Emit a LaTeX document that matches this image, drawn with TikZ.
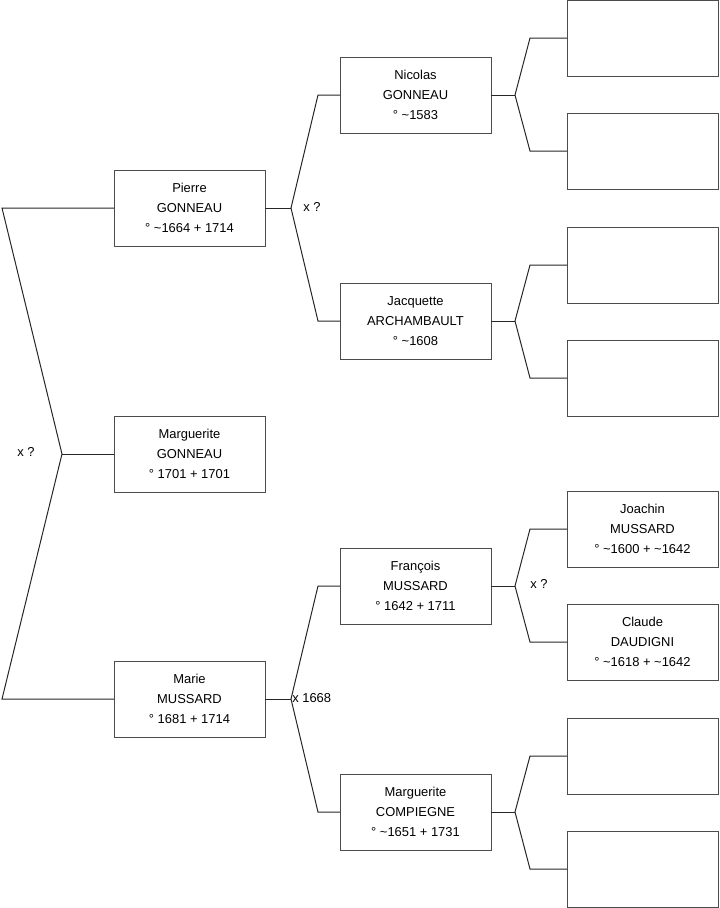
\documentclass[tikz,border=0pt]{standalone}
\usepackage{fontspec}
\setmainfont{Liberation Sans}
\usepackage{tikz}

\begin{document}
\begin{tikzpicture}[
  x=0.75pt, y=-0.75pt,
  person/.style={rectangle, draw=black!70, line width=0.75pt, fill=white,
                 minimum width=113.25pt, minimum height=57pt, inner sep=0pt,
                 outer sep=0pt, align=center,
                 font=\fontsize{9.7}{15}\selectfont},
  link/.style={line width=0.75pt, black!85},
  union/.style={anchor=west, inner sep=0pt, font=\fontsize{9.7}{10}\selectfont}
]
\useasboundingbox (0,0) rectangle (719,908);

% Generation 1
\node[person] at (189.5,208) (pierre)  {Pierre\\GONNEAU\\° \textasciitilde1664 + 1714};
\node[person] at (189.5,454) (margg)   {Marguerite\\GONNEAU\\° 1701 + 1701};
\node[person] at (189.5,699) (marie)   {Marie\\MUSSARD\\° 1681 + 1714};

% Generation 2
\node[person] at (415.5,95)  (nicolas)   {Nicolas\\GONNEAU\\° \textasciitilde1583};
\node[person] at (415.5,321) (jacquette) {Jacquette\\ARCHAMBAULT\\° \textasciitilde1608};
\node[person] at (415.5,586) (francois)  {François\\MUSSARD\\° 1642 + 1711};
\node[person] at (415.5,812) (margc)     {Marguerite\\COMPIEGNE\\° \textasciitilde1651 + 1731};

% Generation 3
\node[person] at (642.5,38)  (nicf)  {};
\node[person] at (642.5,151) (nicm)  {};
\node[person] at (642.5,265) (jacf)  {};
\node[person] at (642.5,378) (jacm)  {};
\node[person] at (642.5,529) (joachin) {Joachin\\MUSSARD\\° \textasciitilde1600 + \textasciitilde1642};
\node[person] at (642.5,642) (claude)  {Claude\\DAUDIGNI\\° \textasciitilde1618 + \textasciitilde1642};
\node[person] at (642.5,756) (marf)  {};
\node[person] at (642.5,869) (marm)  {};

% Left fork
\coordinate (lt) at (2,208);
\coordinate (lf) at (62,454);
\coordinate (lb) at (2,699);
\draw[link] (pierre.west) -- (lt) -- (lf) -- (lb) -- (marie.west);
\draw[link] (lf) -- (margg.west);

% Middle forks
\coordinate (pf) at (291,208);
\coordinate (mf) at (291,699);
\draw[link] (pierre.east) -- (pf);
\draw[link] (nicolas.west) -- (318,95) -- (pf) -- (318,321) -- (jacquette.west);
\draw[link] (marie.east) -- (mf);
\draw[link] (francois.west) -- (318,586) -- (mf) -- (318,812) -- (margc.west);

% Right forks
\foreach \child/\up/\down/\y in {nicolas/nicf/nicm/95, jacquette/jacf/jacm/321,
                                 francois/joachin/claude/586, margc/marf/marm/812} {
  \coordinate (rf) at (515,\y);
  \draw[link] (\child.east) -- (rf);
  \draw[link] (\up.west) -- ([xshift=-27.75pt]\up.west) -- (rf)
              -- ([xshift=-27.75pt]\down.west) -- (\down.west);
}

% Unions
\node[union] at (17,452)  (u1) {x ?};
\node[union] at (303,207) (u2) {x ?};
\node[union] at (292,698) (u3) {x 1668};
\node[union] at (530,584) (u4) {x ?};
\end{tikzpicture}
\end{document}
